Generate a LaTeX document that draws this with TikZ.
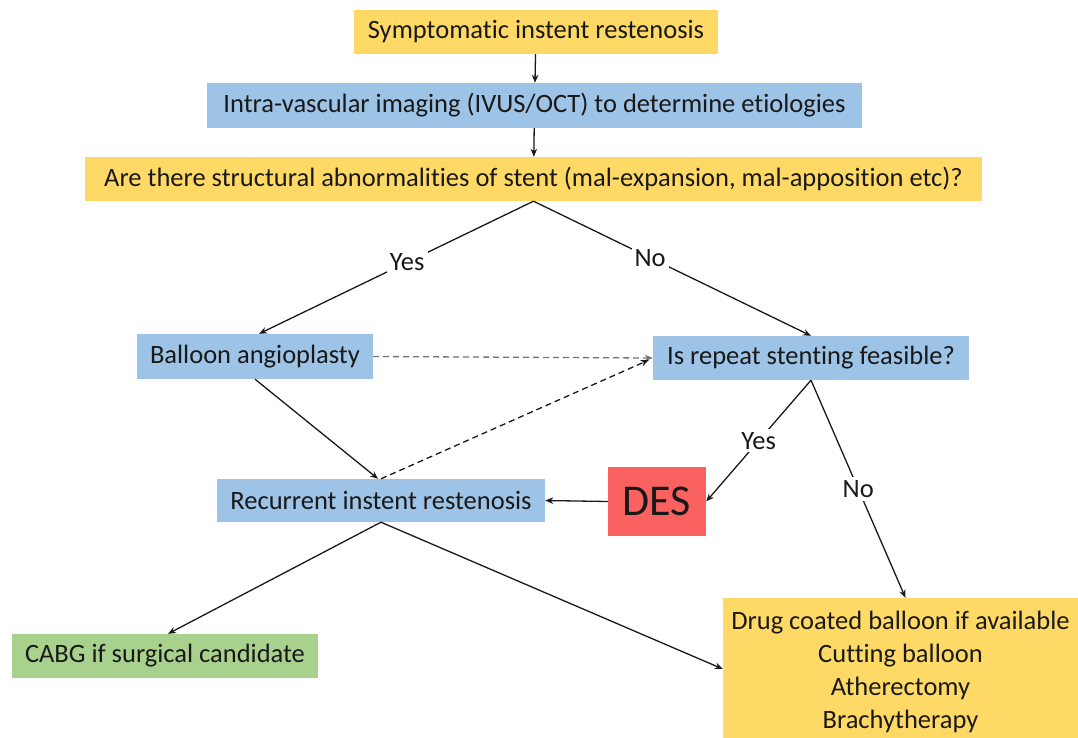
\documentclass[tikz,border=0pt]{standalone}
\usepackage{fontspec}
\setmainfont[Ligatures={NoCommon}]{Carlito}
\usetikzlibrary{arrows.meta,calc}
\definecolor{yel}{HTML}{FFD966}
\definecolor{blu}{HTML}{9DC3E6}
\definecolor{grn}{HTML}{A9D18E}
\definecolor{redd}{HTML}{FA6161}
\begin{document}
\begin{tikzpicture}[x=1pt,y=-1pt,
  box/.style={inner sep=0pt, font=\fontsize{26.5}{30}\selectfont, text=black!90, align=center},
  arr/.style={-{Stealth[length=8pt,width=6.5pt]}, line width=1.3pt, draw=black!90},
  dsh/.style={arr, dashed, dash pattern=on 6pt off 4pt},
  lbl/.style={fill=white, inner sep=3pt, font=\fontsize{26.5}{30}\selectfont, text=black!90}]
\useasboundingbox (0,0) rectangle (1078,738);
\node[box, fill=yel, minimum width=364, minimum height=44] (s) at (536,32) {Symptomatic instent restenosis};
\node[box, fill=blu, minimum width=655, minimum height=45] (iv) at (534.5,105.5) {Intra-vascular imaging (IVUS/OCT) to determine etiologies};
\node[box, fill=yel, minimum width=897, minimum height=44] (a) at (533.5,179) {Are there structural abnormalities of stent (mal-expansion, mal-apposition etc)?};
\node[box, fill=blu, minimum width=236, minimum height=45] (b) at (255,356.5) {Balloon angioplasty};
\node[box, fill=blu, minimum width=316, minimum height=44] (ir) at (811,358) {Is repeat stenting feasible?};
\node[box, fill=redd, minimum width=98, minimum height=69, font=\fontsize{44}{48}\selectfont] (des) at (657,501.5) {DES};
\node[box, fill=blu, minimum width=328, minimum height=43] (r) at (381,500.5) {Recurrent instent restenosis};
\node[box, fill=grn, minimum width=306, minimum height=44] (c) at (165,656) {CABG if surgical candidate};
\node[box, fill=yel, minimum width=355, minimum height=148, font=\fontsize{26.5}{33}\selectfont] (d) at (900.5,672) {Drug coated balloon if available\\Cutting balloon\\Atherectomy\\Brachytherapy};
\draw[arr] (s) -- (iv);
\draw[arr] (iv) -- (a);
\draw[arr] (a.south) -- node[lbl, pos=0.46] {Yes} ($(b.north)+(4,0)$);
\draw[arr] (a.south) -- node[lbl, pos=0.42] {No} (ir.north);
\draw[dsh, draw=black!55] (b.east) -- (ir.west);
\draw[arr] (b.south) -- ($(r.north)+(-3,0)$);
\draw[dsh] (r.north) -- ($(ir.west)+(-4,2)$);
\draw[arr] (ir.south) -- node[lbl, pos=0.5] {Yes} (des.east);
\draw[arr] (ir.south) -- node[lbl, pos=0.5] {No} ($(d.north)+(5,0)$);
\draw[arr] (des.west) -- (r.east);
\draw[arr] (r.south) -- ($(c.north)+(3,0)$);
\draw[arr] (r.south) -- ($(d.west)+(0,-3)$);
\end{tikzpicture}
\end{document}
